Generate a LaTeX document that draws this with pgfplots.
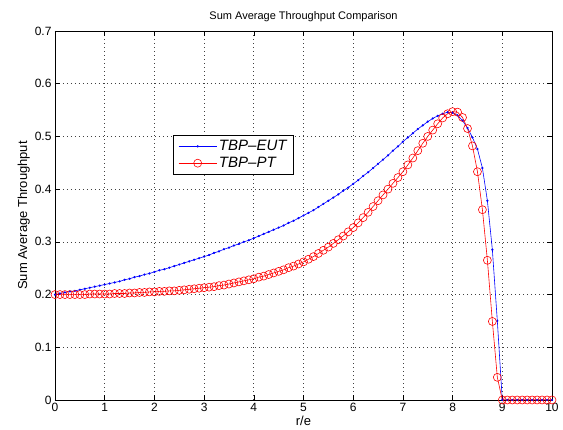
\documentclass[border=0pt]{standalone}
\usepackage{pgfplots}
\pgfplotsset{compat=1.18}
\usepackage{fontspec}
\setmainfont{Liberation Sans}
\usetikzlibrary{calc}
\pgfplotstableread{
x y
0.0 0.200
0.1 0.202
0.2 0.204
0.3 0.206
0.4 0.207
0.5 0.209
0.6 0.211
0.7 0.213
0.8 0.215
0.9 0.217
1.0 0.219
1.1 0.221
1.2 0.223
1.3 0.225
1.4 0.228
1.5 0.230
1.6 0.233
1.7 0.235
1.8 0.238
1.9 0.240
2.0 0.243
2.1 0.246
2.2 0.248
2.3 0.251
2.4 0.254
2.5 0.257
2.6 0.260
2.7 0.263
2.8 0.266
2.9 0.269
3.0 0.272
3.1 0.275
3.2 0.279
3.3 0.282
3.4 0.286
3.5 0.289
3.6 0.293
3.7 0.296
3.8 0.300
3.9 0.303
4.0 0.307
4.1 0.311
4.2 0.315
4.3 0.319
4.4 0.323
4.5 0.327
4.6 0.331
4.7 0.336
4.8 0.340
4.9 0.345
5.0 0.350
5.1 0.355
5.2 0.360
5.3 0.366
5.4 0.372
5.5 0.378
5.6 0.384
5.7 0.390
5.8 0.397
5.9 0.403
6.0 0.410
6.1 0.417
6.2 0.425
6.3 0.432
6.4 0.440
6.5 0.448
6.6 0.456
6.7 0.464
6.8 0.473
6.9 0.481
7.0 0.490
7.1 0.498
7.2 0.506
7.3 0.514
7.4 0.521
7.5 0.528
7.6 0.534
7.7 0.539
7.8 0.543
7.9 0.546
8.0 0.545
8.1 0.540
8.2 0.530
8.3 0.516
8.4 0.498
8.5 0.476
8.6 0.440
8.7 0.378
8.8 0.285
8.9 0.150
9.0 0.000
9.1 0.000
9.2 0.000
9.3 0.000
9.4 0.000
9.5 0.000
9.6 0.000
9.7 0.000
9.8 0.000
9.9 0.000
10.0 0.000
}\eut
\pgfplotstableread{
x y
0.0 0.200
0.1 0.200
0.2 0.200
0.3 0.200
0.4 0.200
0.5 0.200
0.6 0.200
0.7 0.201
0.8 0.201
0.9 0.201
1.0 0.201
1.1 0.201
1.2 0.202
1.3 0.202
1.4 0.202
1.5 0.203
1.6 0.203
1.7 0.204
1.8 0.204
1.9 0.205
2.0 0.205
2.1 0.206
2.2 0.206
2.3 0.207
2.4 0.207
2.5 0.208
2.6 0.209
2.7 0.210
2.8 0.211
2.9 0.212
3.0 0.213
3.1 0.214
3.2 0.215
3.3 0.217
3.4 0.218
3.5 0.220
3.6 0.222
3.7 0.224
3.8 0.226
3.9 0.228
4.0 0.230
4.1 0.233
4.2 0.235
4.3 0.238
4.4 0.241
4.5 0.244
4.6 0.247
4.7 0.251
4.8 0.254
4.9 0.258
5.0 0.262
5.1 0.267
5.2 0.272
5.3 0.278
5.4 0.284
5.5 0.290
5.6 0.297
5.7 0.304
5.8 0.311
5.9 0.319
6.0 0.327
6.1 0.336
6.2 0.346
6.3 0.356
6.4 0.367
6.5 0.378
6.6 0.389
6.7 0.400
6.8 0.411
6.9 0.422
7.0 0.433
7.1 0.446
7.2 0.459
7.3 0.473
7.4 0.487
7.5 0.500
7.6 0.512
7.7 0.524
7.8 0.535
7.9 0.543
8.0 0.547
8.1 0.546
8.2 0.536
8.3 0.515
8.4 0.482
8.5 0.433
8.6 0.361
8.7 0.265
8.8 0.149
8.9 0.043
9.0 0.000
9.1 0.000
9.2 0.000
9.3 0.000
9.4 0.000
9.5 0.000
9.6 0.000
9.7 0.000
9.8 0.000
9.9 0.000
10.0 0.000
}\pt
\begin{document}
\begin{tikzpicture}
\begin{axis}[
  name=ax,
  scale only axis,
  width=497pt, height=369pt,
  xmin=0, xmax=10, ymin=0, ymax=0.7,
  xtick={0,1,...,10},
  ytick={0,0.1,...,0.7},
  yticklabels={0,0.1,0.2,0.3,0.4,0.5,0.6,0.7},
  /pgf/number format/assume math mode=true,
  tick align=inside,
  major tick length=5pt,
  tick style={black, line width=0.5pt},
  axis line style={black, line width=0.8pt},
  grid=major,
  grid style={black!75, line width=0.6pt, dash pattern=on 0.8pt off 3.2pt},
  tick label style={font=\fontsize{12}{14}\selectfont},
  title={Sum Average Throughput Comparison},
  title style={font=\fontsize{11}{13}\selectfont, yshift=0pt},
  xlabel={r/e},
  ylabel={Sum Average Throughput},
  label style={font=\fontsize{13}{15}\selectfont},
  xlabel style={yshift=3pt},
  ylabel style={yshift=-2pt},
  legend style={at={(rel axis cs:0.2374,0.718)}, anchor=north west,
    font=\fontsize{15}{18}\selectfont\itshape, draw=black, line width=0.8pt,
    fill=white, inner xsep=5pt, inner ysep=3pt, row sep=1pt},
  legend cell align=left,
  legend image code/.code={\draw[mark repeat=2,mark phase=2,#1] plot coordinates {(0pt,0pt) (19pt,0pt) (38pt,0pt)};},
]
\addplot[blue, line width=0.6pt, mark=*, mark size=0.8pt] table[x=x,y=y]{\eut};
\addlegendentry{TBP–EUT}
\addplot[red, line width=0.6pt, mark=o, mark size=4pt, mark options={line width=0.6pt}] table[x=x,y=y]{\pt};
\addlegendentry{TBP–PT}
\end{axis}
\pgfresetboundingbox
\path[use as bounding box] ($(ax.south west)+(-55pt,-30pt)$) rectangle ($(ax.north east)+(11pt,31pt)$);
\end{tikzpicture}
\end{document}
